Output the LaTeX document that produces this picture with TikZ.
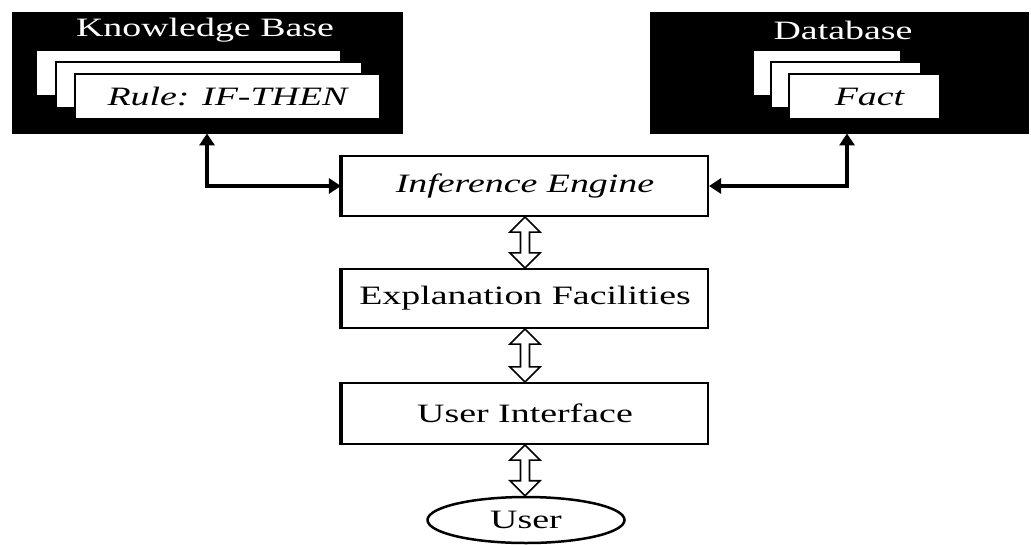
\documentclass[tikz,border=0pt]{standalone}
\usepackage{fontspec}
\newfontfamily\widefont[FakeStretch=1.43]{Liberation Serif}
\usetikzlibrary{arrows.meta,calc,shapes.geometric}
\begin{document}
\begin{tikzpicture}[x=1pt,y=-1pt,
  txt/.style={font=\widefont\fontsize{26.5}{30}\selectfont},
  blackbox/.style={fill=black, draw=black, inner sep=0pt, anchor=north west},
  card/.style={txt, fill=white, draw=black, line width=2pt, anchor=north west, inner sep=0pt},
  title/.style={txt, text=white, inner sep=0pt},
  box/.style={txt, draw=black, line width=2.2pt, fill=white, minimum width=366pt, inner sep=0pt},
  leftedge/.style={line width=4.5pt},
  conn/.style={line width=4pt, {Triangle[length=12pt,width=15pt]}-{Triangle[length=12pt,width=15pt]}},
  fat/.style={draw=black, line width=1.6pt, fill=white},
  usr/.style={txt, ellipse, draw=black, line width=2.5pt, minimum width=197pt, minimum height=46pt, inner sep=0pt}
]
\fill[white] (0,0) rectangle (1031,544);
\useasboundingbox (0,0) rectangle (1031,544);

% Knowledge base
\node[blackbox, minimum width=390pt, minimum height=121pt] (kb) at (12,12) {};
\node[title] (kbt) at (205,30) {Knowledge Base};
\node[card, minimum width=305pt, minimum height=46pt] (kbc1) at (35,49) {};
\node[card, minimum width=306pt, minimum height=46pt] (kbc2) at (55,61) {};
\node[card, minimum width=305pt, minimum height=45pt] (kbc3) at (74,73) {\itshape Rule: IF-THEN};

% Database
\node[blackbox, minimum width=378pt, minimum height=121pt] (db) at (650,12) {};
\node[title] (dbt) at (843,30) {Database};
\node[card, minimum width=148pt, minimum height=46pt] (dbc1) at (752,49) {};
\node[card, minimum width=150pt, minimum height=46pt] (dbc2) at (770,61) {};
\node[card, minimum width=151pt, minimum height=45pt] (dbc3) at (788,73) {\hspace*{10pt}\itshape Fact};

% Central boxes
\node[box, minimum height=60pt] (ie) at (525,186) {\itshape Inference Engine};
\node[box, minimum height=59pt] (ef) at (525,298.5) {Explanation Facilities};
\node[box, minimum height=61pt] (ui) at (525,413.5) {User Interface};
\foreach \n in {ie,ef,ui}{\draw[leftedge] (\n.north west) -- (\n.south west);}

\node[usr] (user) at (526,520) {User};

% Connectors from stores
\coordinate (kbj) at (207,186);
\coordinate (dbj) at (847,186);
\draw[conn] (kb.south -| kbj) -- (kbj) -- (ie.west);
\draw[conn] (db.south -| dbj) -- (dbj) -- (ie.east);

% Hollow double arrows
\foreach \a/\b in {ie/ef, ef/ui, ui/user}{
  \draw[fat] let \p1=(\a.south), \p2=(\b.north) in
    (\x1,\y1) -- (\x1+15pt,\y1-15pt) -- (\x1+4.5pt,\y1-15pt) -- (\x1+4.5pt,\y2+15pt)
    -- (\x1+15pt,\y2+15pt) -- (\x1,\y2) -- (\x1-15pt,\y2+15pt) -- (\x1-4.5pt,\y2+15pt)
    -- (\x1-4.5pt,\y1-15pt) -- (\x1-15pt,\y1-15pt) -- cycle;
}
\end{tikzpicture}
\end{document}
